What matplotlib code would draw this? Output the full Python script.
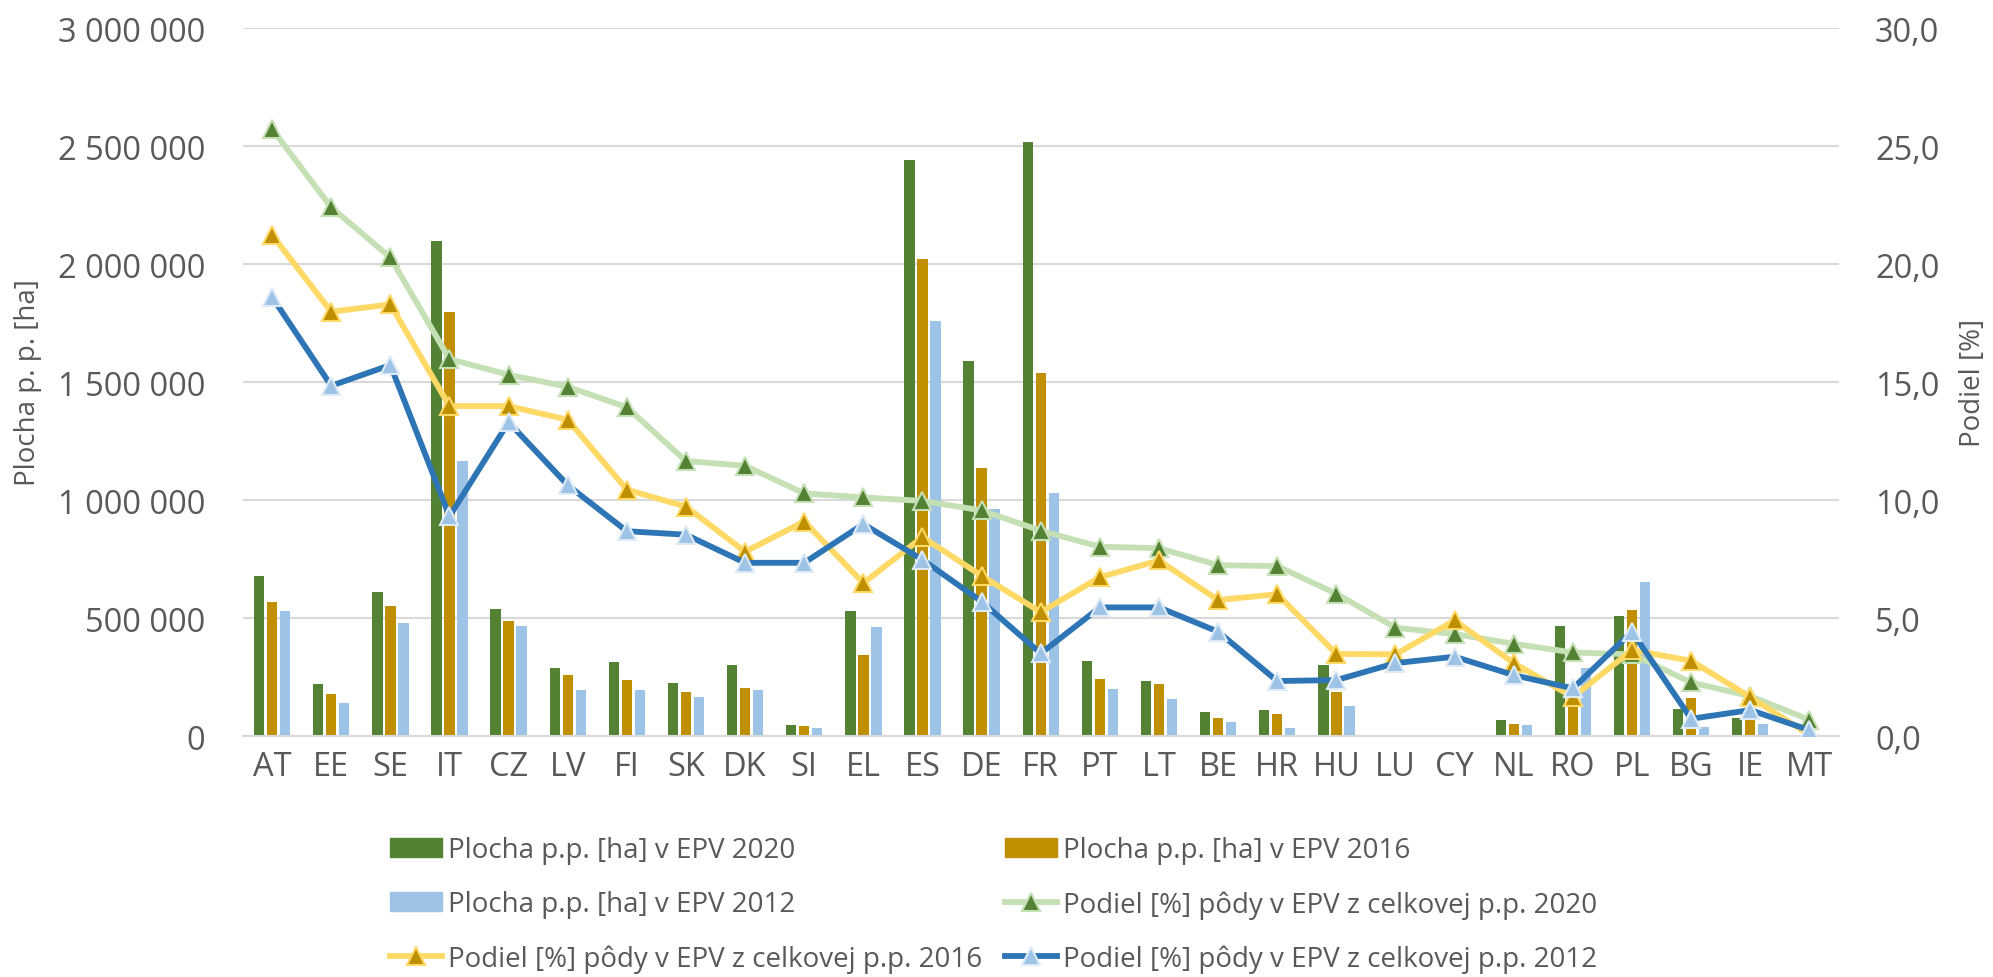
import matplotlib
matplotlib.use("Agg")
import matplotlib.pyplot as plt
import numpy as np
from matplotlib.patches import Patch

countries = ["AT","EE","SE","IT","CZ","LV","FI","SK","DK","SI","EL","ES","DE","FR",
             "PT","LT","BE","HR","HU","LU","CY","NL","RO","PL","BG","IE","MT"]

area_2020 = [679000, 219000, 611000, 2096000, 537000, 288000, 315000, 223000, 299000, 48000,
             531000, 2439000, 1590000, 2517000, 317000, 233000, 100000, 110000, 301000, 4500,
             4000, 69000, 467000, 508000, 114000, 75000, 500]
area_2016 = [570000, 180000, 553000, 1796000, 488000, 258000, 237000, 186000, 204000, 42000,
             342000, 2020000, 1135000, 1537000, 243000, 220000, 77000, 95000, 186000, 4000,
             3500, 52000, 180000, 533000, 159000, 74000, 400]
area_2012 = [531000, 142000, 477000, 1167000, 465000, 194000, 194000, 165000, 194000, 34000,
             461000, 1759000, 960000, 1030000, 198000, 157000, 58000, 32000, 128000, 3000,
             2000, 48000, 288000, 654000, 38000, 50000, 300]

share_2020 = [25.72, 22.4, 20.28, 15.97, 15.31, 14.80, 13.93, 11.65, 11.45, 10.28, 10.11, 9.96,
              9.56, 8.70, 8.02, 7.96, 7.24, 7.20, 6.03, 4.59, 4.32, 3.91, 3.54, 3.46, 2.27, 1.69, 0.69]
share_2016 = [21.23, 17.98, 18.29, 13.98, 13.98, 13.40, 10.44, 9.72, 7.81, 9.09, 6.48, 8.43,
              6.79, 5.25, 6.73, 7.44, 5.76, 6.01, 3.48, 3.46, 4.90, 3.09, 1.65, 3.64, 3.19, 1.65, 0.05]
share_2012 = [18.60, 14.84, 15.72, 9.31, 13.30, 10.63, 8.68, 8.53, 7.34, 7.34, 8.98, 7.47,
              5.70, 3.50, 5.45, 5.45, 4.42, 2.33, 2.37, 3.09, 3.36, 2.58, 2.02, 4.42, 0.73, 1.10, 0.25]

left_ticks = [0, 500000, 1000000, 1500000, 2000000, 2500000, 3000000]
right_ticks = [0, 5, 10, 15, 20, 25, 30]

labels = ["Plocha p.p. [ha] v EPV 2020", "Plocha p.p. [ha] v EPV 2016",
          "Plocha p.p. [ha] v EPV 2012", "Podiel [%] pôdy v EPV z celkovej p.p. 2020",
          "Podiel [%] pôdy v EPV z celkovej p.p. 2016", "Podiel [%] pôdy v EPV z celkovej p.p. 2012"]

plt.rcParams['font.family'] = ['Open Sans', 'DejaVu Sans']
txt = '#595959'
grid_c = '#D9D9D9'

fig = plt.figure(figsize=(19.93, 9.78), dpi=100)
ax = fig.add_axes([0.1217, 0.2464, 0.801, 0.7239])
ax2 = ax.twinx()

x = np.arange(len(countries))
bw = 0.175
sp = 0.22
c20, c16, c12 = '#548235', '#BF8F00', '#9DC3E6'
ax.bar(x - sp, area_2020, bw, color=c20, zorder=2)
ax.bar(x, area_2016, bw, color=c16, zorder=2)
ax.bar(x + sp, area_2012, bw, color=c12, zorder=2)

ax.set_ylim(0, 3000000)
ax.set_xlim(-0.5, len(countries) - 0.5)
ax.set_yticks(left_ticks)
ax.set_yticklabels([f"{v:,}".replace(",", " ") for v in left_ticks])
ax.set_xticks(x)
ax.set_xticklabels(countries)
ax.yaxis.grid(True, color=grid_c, linewidth=1.5, zorder=0)
ax.set_axisbelow(True)
for s in ['top', 'right', 'left']:
    ax.spines[s].set_visible(False)
ax.spines['bottom'].set_color(grid_c)
ax.spines['bottom'].set_linewidth(1.5)
ax.tick_params(axis='both', length=0, labelsize=23.5, colors=txt)
ax.tick_params(axis='y', pad=27)
ax.tick_params(axis='x', pad=10)
ax.set_ylabel("Plocha p. p. [ha]", fontsize=20, color=txt, labelpad=11)

lw = 4.2
ms = 13
l20, = ax2.plot(x, share_2020, color='#C5E0B4', lw=lw, marker='^', ms=ms,
                mfc=c20, mec='#C5E0B4', mew=1.5, zorder=3)
l16, = ax2.plot(x, share_2016, color='#FFD966', lw=lw, marker='^', ms=ms,
                mfc=c16, mec='#FFD966', mew=1.5, zorder=4)
l12, = ax2.plot(x, share_2012, color='#2E75B6', lw=lw, marker='^', ms=ms,
                mfc=c12, mec='#DEEBF7', mew=1.5, zorder=5)
ax2.set_ylim(0, 30)
ax2.set_yticks(right_ticks)
ax2.set_yticklabels([f"{v:.1f}".replace(".", ",") for v in right_ticks])
for s in ['top', 'right', 'left', 'bottom']:
    ax2.spines[s].set_visible(False)
ax2.tick_params(axis='y', length=0, labelsize=23.5, colors=txt, pad=26)
ax2.set_ylabel("Podiel [%]", fontsize=20, color=txt, labelpad=14)

h_b20 = Patch(color=c20)
h_b16 = Patch(color=c16)
h_b12 = Patch(color=c12)
handles = [h_b20, h_b12, l16, h_b16, l20, l12]
labs = [labels[0], labels[2], labels[4], labels[1], labels[3], labels[5]]
leg = fig.legend(handles, labs, ncol=2, loc='upper left', bbox_to_anchor=(390 / 1993, 0.1442),
                 frameon=False, fontsize=20, labelcolor=txt, handlelength=1.87,
                 handletextpad=0.2, columnspacing=0.85, labelspacing=0.94,
                 borderpad=0, borderaxespad=0)

fig.savefig("out.png", dpi=100)
